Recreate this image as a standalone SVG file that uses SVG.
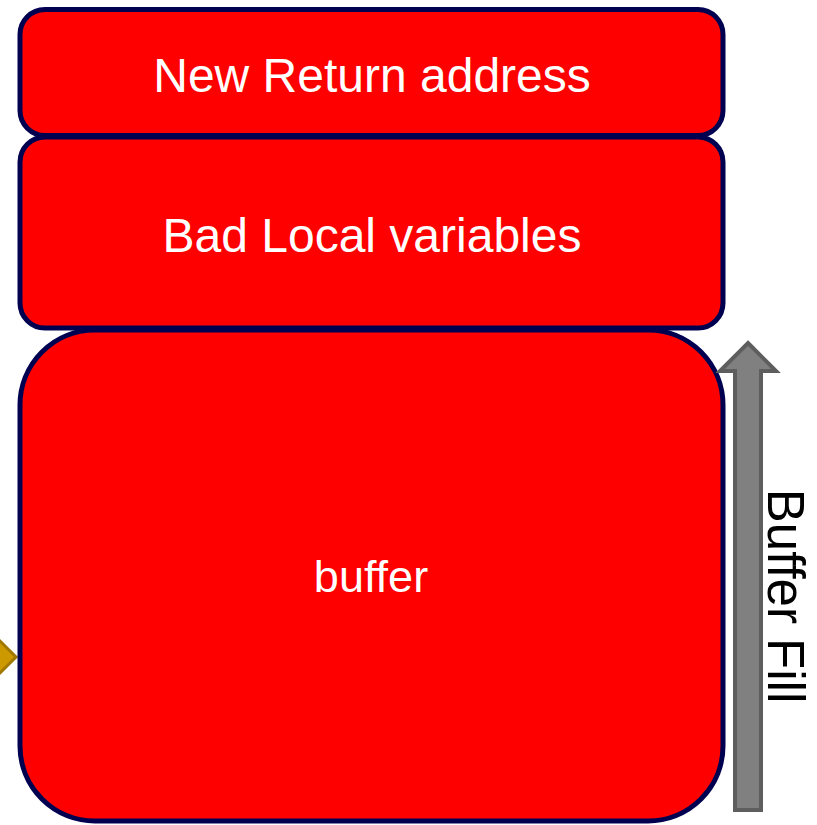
<svg xmlns="http://www.w3.org/2000/svg" width="817" height="825" viewBox="0 0 817 825">
  <style>
    .frame { fill: #ff0000; stroke: #000050; stroke-width: 5; }
    .label { fill: #ffffff; font-family: "Liberation Sans", Arial, sans-serif; text-anchor: middle; }
    .side { fill: #000000; font-family: "Liberation Sans", Arial, sans-serif; font-size: 51px; text-anchor: middle; }
  </style>
  <rect width="817" height="825" fill="#ffffff"/>

  <!-- pointer marker at the left edge -->
  <g id="pointer">
    <polygon points="-8,633 16,657 -8,681 -32,657" fill="#cc9900" stroke="#a07800" stroke-width="3"/>
  </g>

  <g id="buffer">
    <rect class="frame" x="20" y="330" width="703" height="491" rx="75" ry="75"/>
    <text class="label" x="371" y="592" font-size="45">buffer</text>
  </g>

  <g id="locals">
    <rect class="frame" x="20" y="137" width="703" height="191" rx="25" ry="25"/>
    <text class="label" x="372" y="252" font-size="48">Bad Local variables</text>
  </g>

  <g id="return-address">
    <rect class="frame" x="20" y="9.5" width="703" height="126" rx="25" ry="25"/>
    <text class="label" x="372" y="92" font-size="48">New Return address</text>
  </g>

  <g id="connectors">
    <polygon points="748,343 776,371 761,371 761,810 735,810 735,371 720,371" fill="#808080" stroke="#5e5e5e" stroke-width="4" stroke-linejoin="miter"/>
  </g>

  <g id="fill-label">
    <text class="side" transform="translate(768,596) rotate(90)">Buffer Fill</text>
  </g>
</svg>
